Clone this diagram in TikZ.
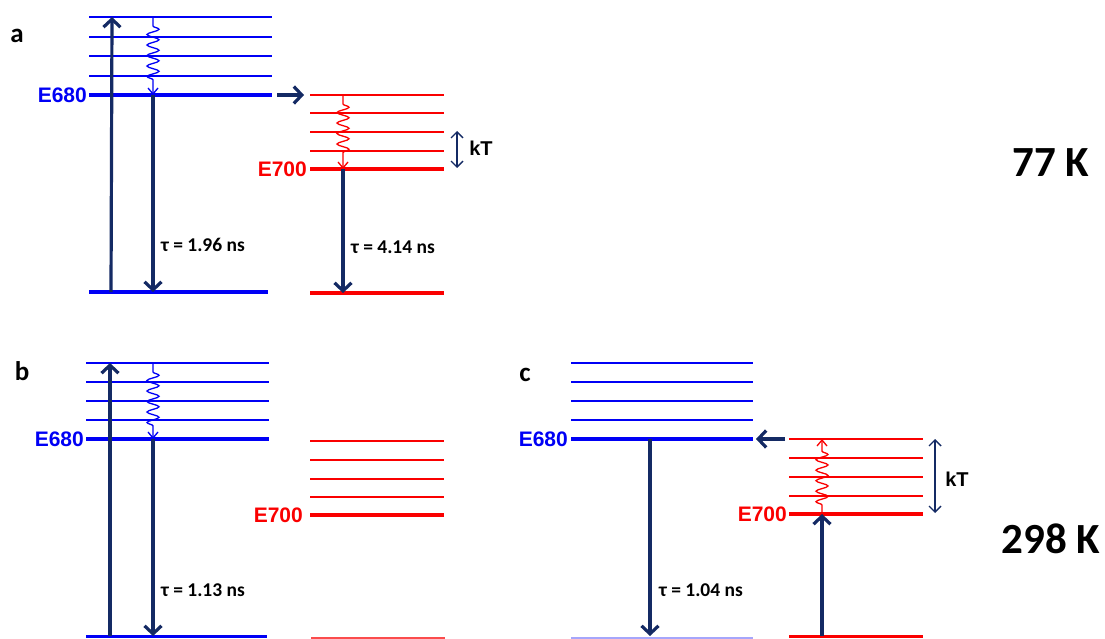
\documentclass[tikz,border=0pt]{standalone}
\usepackage{fontspec}
\setmainfont{Carlito}
\newfontfamily\arialf{Liberation Sans}
\usetikzlibrary{arrows.meta,decorations.pathmorphing}
\definecolor{navy}{RGB}{20,42,100}
\definecolor{lvblue}{RGB}{0,0,245}
\definecolor{lvred}{RGB}{250,0,0}
\tikzset{
  thinlvl/.style={line width=1.5pt},
  thicklvl/.style={line width=3.4pt},
  navyarrow/.style={draw=navy, line width=3.2pt, -{Straight Barb[length=8pt,width=17pt,line width=3.2pt]}},
  wavy/.style={line width=1.3pt, decorate,
    decoration={snake,segment length=10.5pt,amplitude=6pt,pre length=9pt,post length=12pt},
    -{Straight Barb[length=6pt,width=10pt,line width=1.3pt]}},
  ktarrow/.style={draw=navy, line width=1.4pt, {Straight Barb[length=6pt,width=12pt,line width=1.4pt]}-{Straight Barb[length=6pt,width=12pt,line width=1.4pt]}},
  elbl/.style={font=\arialf\bfseries\fontsize{21}{21}\selectfont, inner sep=1pt},
  ktlbl/.style={font=\arialf\bfseries\fontsize{20}{20}\selectfont, inner sep=0pt},
  taulbl/.style={font=\bfseries\fontsize{19.5}{19.5}\selectfont, inner sep=0pt, anchor=west},
  templbl/.style={font=\bfseries\fontsize{43}{43}\selectfont, inner sep=0pt},
  panlbl/.style={font=\bfseries\fontsize{27}{27}\selectfont, inner sep=0pt, anchor=base},
}
\begin{document}
\begin{tikzpicture}[x=1pt,y=-1pt]
\useasboundingbox (0,0) rectangle (1105,639);

% ---------------- panel a ----------------
\node[panlbl] (la) at (17,43) {a};
\foreach \yy in {17,37,56,76} \draw[thinlvl, lvblue] (89,\yy) -- (272,\yy);
\draw[thicklvl, lvblue] (89,95) -- (272,95);
\draw[thicklvl, lvblue] (89,292) -- (268,292);
\node[elbl, text=lvblue, anchor=east] (ae680) at (88,95) {E680};
\coordinate (aup0) at (111,292); \coordinate (aup1) at (112,17);
\draw[navyarrow] (aup0) -- (aup1);
\coordinate (aw0) at (153,17); \coordinate (aw1) at (153,95);
\draw[wavy, lvblue] (aw0) -- (aw1);
\coordinate (ad1) at (153,292);
\draw[navyarrow] (aw1) -- (ad1);
\node[taulbl] (ata) at (161,245) {τ = 1.96 ns};
\coordinate (at0) at (277,95); \coordinate (at1) at (304,95);
\draw[navyarrow] (at0) -- (at1);
\foreach \yy in {95,113,132,151} \draw[thinlvl, lvred] (310,\yy) -- (444,\yy);
\draw[thicklvl, lvred] (310,169) -- (444,169);
\draw[thicklvl, lvred] (310,293) -- (444,293);
\node[elbl, text=lvred, anchor=east] (ae700) at (308,169) {E700};
\coordinate (arw0) at (343,95); \coordinate (arw1) at (343,169);
\draw[wavy, lvred] (arw0) -- (arw1);
\coordinate (ard1) at (343,293);
\draw[navyarrow] (arw1) -- (ard1);
\node[taulbl] (atb) at (351,247) {τ = 4.14 ns};
\coordinate (akt0) at (457,131); \coordinate (akt1) at (457,168);
\draw[ktarrow] (akt0) -- (akt1);
\node[ktlbl] (akt) at (481,148) {kT};
\node[templbl] (t77) at (1051,163) {77 K};

% ---------------- panel b ----------------
\node[panlbl] (lb) at (22,380) {b};
\foreach \yy in {363,382,401,420} \draw[thinlvl, lvblue] (86,\yy) -- (269,\yy);
\draw[thicklvl, lvblue] (86,439) -- (269,439);
\draw[thicklvl, lvblue] (86,636.5) -- (267,636.5);
\node[elbl, text=lvblue, anchor=east] (be680) at (85,439) {E680};
\coordinate (bup0) at (110,636); \coordinate (bup1) at (110,363);
\draw[navyarrow] (bup0) -- (bup1);
\coordinate (bw0) at (153,363); \coordinate (bw1) at (153,439);
\draw[wavy, lvblue] (bw0) -- (bw1);
\coordinate (bd1) at (153,636);
\draw[navyarrow] (bw1) -- (bd1);
\node[taulbl] (bta) at (161,590) {τ = 1.13 ns};
\foreach \yy in {441,460,479,497} \draw[thinlvl, lvred] (310,\yy) -- (444,\yy);
\draw[thicklvl, lvred] (310,515) -- (444,515);
\draw[line width=2pt, lvred!70] (311,638) -- (445,638);
\node[elbl, text=lvred, anchor=east] (be700) at (304,515) {E700};

% ---------------- panel c ----------------
\node[panlbl] (lc) at (525,381) {c};
\foreach \yy in {363,382,401,420} \draw[thinlvl, lvblue] (571,\yy) -- (753,\yy);
\draw[thicklvl, lvblue] (571,439) -- (753,439);
\draw[line width=2pt, lvblue!35] (571,638) -- (753,638);
\node[elbl, text=lvblue, anchor=east] (ce680) at (569,439) {E680};
\coordinate (cd0) at (650,439); \coordinate (cd1) at (650,636);
\draw[navyarrow] (cd0) -- (cd1);
\node[taulbl] (cta) at (659,590) {τ = 1.04 ns};
\coordinate (ct0) at (785,439); \coordinate (ct1) at (756,439);
\draw[navyarrow] (ct0) -- (ct1);
\foreach \yy in {439,458,477,496} \draw[thinlvl, lvred] (789,\yy) -- (923,\yy);
\draw[thicklvl, lvred] (789,514) -- (923,514);
\draw[thicklvl, lvred] (789,636.5) -- (923,636.5);
\node[elbl, text=lvred, anchor=east] (ce700) at (788,514) {E700};
\coordinate (cw0) at (822,514); \coordinate (cw1) at (822,439);
\draw[wavy, lvred] (cw0) -- (cw1);
\coordinate (cu0) at (822,636);
\draw[navyarrow] (cu0) -- (cw0);
\coordinate (ckt0) at (935,439); \coordinate (ckt1) at (935,513);
\draw[ktarrow] (ckt0) -- (ckt1);
\node[ktlbl] (ckt) at (957,479) {kT};
\node[templbl] (t298) at (1051,539) {298 K};
\end{tikzpicture}
\end{document}
